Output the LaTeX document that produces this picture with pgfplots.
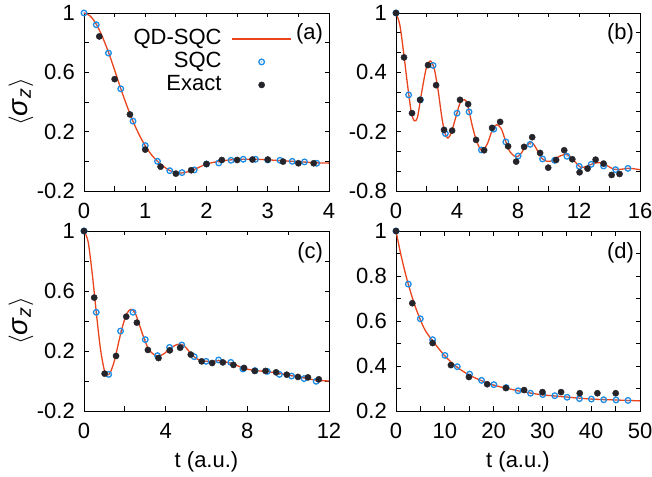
\documentclass[border=0pt]{standalone}
\usepackage{fontspec}
\setmainfont{Liberation Sans}
\usepackage{pgfplots}
\pgfplotsset{compat=1.18}

\definecolor{qdred}{RGB}{234,68,28}
\definecolor{sqcblue}{RGB}{28,140,228}
\definecolor{exactdark}{RGB}{36,36,42}

% open circle with a dot in the middle (gnuplot style)
\pgfdeclareplotmark{odot}{%
  \pgfpathcircle{\pgfpointorigin}{\pgfplotmarksize}\pgfusepathqstroke
  \pgfpathcircle{\pgfpointorigin}{0.6bp}\pgfusepathqfill}

\pgfplotsset{
  panel/.style={
    scale only axis, width=245bp, height=178bp,
    font=\fontsize{22bp}{26bp}\selectfont,
    axis line style={line width=0.8bp},
    every tick/.style={black, line width=0.8bp},
    major tick length=4.5bp,
    tick align=inside,
    tick label style={inner sep=0pt},
    xticklabel shift=12bp, yticklabel shift=9bp,
    clip mode=individual,
    ylabel={\fontsize{28bp}{30bp}\selectfont$\langle$\textit{σ}\textsubscript{\textit{z}}$\rangle$},
    ylabel style={at={(axis description cs:-0.257,0.5)}, anchor=center,
      rotate=0, inner sep=0pt},
  },
  bottompanel/.style={panel, height=180bp,
    xlabel={t (a.u.)},
    xlabel style={at={(axis description cs:0.5,-0.28)}, anchor=center, inner sep=0pt}},
  qd/.style={qdred, line width=1.3bp, smooth, no markers},
  sqc/.style={sqcblue, only marks, mark=odot, mark size=2.8bp, line width=1.3bp},
  ex/.style={exactdark, only marks, mark=*, mark size=3.1bp},
  lineleg/.style={legend image code/.code={\draw[##1] (0bp,0bp) -- (59bp,0bp);}},
  markleg/.style={legend image code/.code={\path (0bp,0bp) (59bp,0bp);
      \draw[##1] plot coordinates {(29.5bp,0bp)};}},
}

\newcommand{\plab}[1]{\node[anchor=east, inner sep=0pt] at (axis description cs:0.976,0.881) {#1};}

\begin{document}
\begin{tikzpicture}
\useasboundingbox (0,0) rectangle (652bp,477bp);

% (a)
\begin{axis}[panel, at={(84bp,286bp)}, anchor=south west,
  xmin=0, xmax=4, ymin=-0.2, ymax=1,
  xtick={0,0.5,1,1.5,2,2.5,3,3.5,4}, xticklabels={0,,1,,2,,3,,4},
  ytick={-0.2,0,0.2,0.4,0.6,0.8,1}, yticklabels={-0.2,,0.2,,0.6,,1},
  legend plot pos=right, legend cell align=right,
  legend style={at={(axis description cs:0.849,0.92)}, anchor=north east,
    draw=none, fill=none, inner sep=0pt, row sep=0pt, column sep=10bp,
    nodes={inner sep=0pt, text height=17bp, text depth=6bp}}]
\addplot[qd, lineleg] coordinates {
 (0,1.0) (0.1,0.98) (0.2,0.925) (0.3,0.84) (0.4,0.735) (0.5,0.615) (0.6,0.49)
 (0.7,0.375) (0.8,0.27) (0.9,0.18) (1.0,0.105) (1.1,0.045) (1.2,0.0) (1.3,-0.035)
 (1.4,-0.062) (1.5,-0.076) (1.6,-0.078) (1.7,-0.07) (1.8,-0.055) (1.9,-0.036)
 (2.0,-0.018) (2.2,0.0) (2.4,0.01) (2.6,0.014) (2.8,0.014) (3.0,0.01) (3.2,0.005)
 (3.4,0.0) (3.6,-0.005) (3.8,-0.01) (4.0,-0.012)};
\addlegendentry{QD-SQC}
\addplot[sqc, markleg] coordinates {
 (0,1) (0.2,0.921) (0.4,0.73) (0.6,0.489) (0.8,0.271) (1.0,0.106) (1.2,0.0)
 (1.4,-0.063) (1.6,-0.076) (1.8,-0.058) (2.0,-0.018) (2.2,-0.011) (2.4,0.007)
 (2.6,0.014) (2.8,0.014) (3.0,0.009) (3.2,0.007) (3.4,0.0) (3.6,-0.004) (3.8,-0.013)};
\addlegendentry{SQC}
\addplot[ex, markleg] coordinates {
 (0.25,0.842) (0.5,0.554) (0.75,0.316) (1.0,0.079) (1.25,-0.036) (1.5,-0.083)
 (1.75,-0.06) (2.0,-0.018) (2.25,0.009) (2.5,0.009) (2.75,0.012) (3.0,0.012)
 (3.25,-0.002) (3.5,-0.013) (3.75,-0.013)};
\addlegendentry{Exact}
\plab{(a)}
\end{axis}

% (b)
\begin{axis}[panel, at={(396bp,286bp)}, anchor=south west, width=244bp, ylabel={},
  xmin=0, xmax=16, ymin=-0.8, ymax=1,
  xtick={0,2,4,6,8,10,12,14,16}, xticklabels={0,,4,,8,,12,,16},
  ytick={-0.8,-0.6,-0.4,-0.2,0,0.2,0.4,0.6,0.8,1},
  yticklabels={-0.8,,,-0.2,,,0.4,,,1}]
\addplot[qd] coordinates {
 (0,1.0) (0.25,0.88) (0.5,0.6) (0.75,0.28) (1.0,0.0) (1.2,-0.09) (1.4,-0.06)
 (1.6,0.12) (1.8,0.30) (2.0,0.45) (2.25,0.515) (2.5,0.44) (2.75,0.23) (3.0,-0.05)
 (3.2,-0.21) (3.4,-0.265) (3.6,-0.22) (3.8,-0.12) (4.0,-0.01) (4.2,0.09) (4.4,0.12)
 (4.6,0.11) (4.8,0.0) (5.0,-0.14) (5.25,-0.28) (5.5,-0.37) (5.7,-0.39) (6.0,-0.32)
 (6.3,-0.19) (6.6,-0.13) (6.9,-0.17) (7.2,-0.3) (7.5,-0.41) (7.9,-0.455) (8.2,-0.42)
 (8.5,-0.35) (8.9,-0.31) (9.2,-0.37) (9.5,-0.46) (9.9,-0.5) (10.3,-0.49) (10.7,-0.45)
 (11.2,-0.43) (11.6,-0.48) (12.1,-0.56) (12.5,-0.55) (13.0,-0.52) (13.4,-0.515)
 (13.8,-0.54) (14.3,-0.58) (14.8,-0.58) (15.3,-0.57) (16,-0.585)};
\addplot[sqc] coordinates {
 (0,1) (0.83,0.172) (1.6,0.122) (2.43,0.47) (3.24,-0.219) (4.0,-0.013) (4.79,0.0)
 (5.6,-0.385) (6.41,-0.175) (7.2,-0.304) (8.01,-0.446) (8.8,-0.328) (9.61,-0.476)
 (10.4,-0.49) (11.21,-0.449) (12.02,-0.551) (12.8,-0.53) (13.61,-0.547)
 (14.4,-0.584) (15.21,-0.571)};
\addplot[ex] coordinates {
 (0,1) (0.525,0.551) (1.05,-0.013) (1.58,0.122) (2.1,0.473) (2.63,0.27)
 (3.15,-0.182) (3.68,-0.189) (4.2,0.122) (4.73,0.078) (5.25,-0.283) (5.78,-0.388)
 (6.3,-0.162) (6.83,-0.101) (7.35,-0.348) (7.88,-0.503) (8.4,-0.354) (8.93,-0.256)
 (9.45,-0.415) (9.98,-0.564) (10.5,-0.486) (11.03,-0.388) (11.56,-0.479)
 (12.04,-0.611) (12.56,-0.574) (13.09,-0.483) (13.61,-0.523) (14.14,-0.638)
 (14.66,-0.628)};
\plab{(b)}
\end{axis}

% (c)
\begin{axis}[bottompanel, at={(84bp,66bp)}, anchor=south west,
  xmin=0, xmax=12, ymin=-0.2, ymax=1,
  xtick={0,2,4,6,8,10,12}, xticklabels={0,,4,,8,,12},
  ytick={-0.2,0,0.2,0.4,0.6,0.8,1}, yticklabels={-0.2,,0.2,,0.6,,1}]
\addplot[qd] coordinates {
 (0,1.0) (0.2,0.93) (0.4,0.72) (0.6,0.46) (0.8,0.22) (1.0,0.07) (1.15,0.04)
 (1.3,0.06) (1.5,0.14) (1.7,0.26) (1.9,0.37) (2.1,0.45) (2.3,0.478) (2.5,0.455)
 (2.7,0.38) (2.9,0.3) (3.1,0.23) (3.3,0.19) (3.6,0.165) (3.9,0.18) (4.2,0.215)
 (4.5,0.24) (4.7,0.245) (4.9,0.235) (5.2,0.19) (5.5,0.15) (5.8,0.135) (6.2,0.13)
 (6.6,0.135) (7.0,0.125) (7.4,0.11) (7.8,0.085) (8.4,0.07) (9.0,0.062) (9.6,0.05)
 (10.2,0.035) (10.8,0.02) (11.4,0.005) (12,0.0)};
\addplot[sqc] coordinates {
 (0,1) (0.6,0.458) (1.21,0.044) (1.79,0.333) (2.4,0.458) (3.0,0.276) (3.6,0.169)
 (4.19,0.224) (4.79,0.24) (5.4,0.162) (5.98,0.131) (6.59,0.14) (7.19,0.124)
 (7.78,0.08) (8.38,0.069) (8.98,0.064) (9.57,0.044) (10.17,0.033) (10.78,0.016)
 (11.37,-0.002)};
\addplot[ex] coordinates {
 (0,1) (0.5,0.556) (1.01,0.049) (1.57,0.167) (2.07,0.429) (2.59,0.389) (3.13,0.207)
 (3.65,0.153) (4.2,0.204) (4.71,0.222) (5.23,0.176) (5.76,0.131) (6.28,0.12)
 (6.8,0.124) (7.32,0.107) (7.84,0.087) (8.36,0.067) (8.89,0.067) (9.41,0.058)
 (9.93,0.042) (10.48,0.027) (10.97,0.024) (11.5,0.011)};
\plab{(c)}
\end{axis}

% (d)
\begin{axis}[bottompanel, at={(396bp,66bp)}, anchor=south west, width=244bp, ylabel={},
  xmin=0, xmax=50, ymin=0.2, ymax=1,
  xtick={0,5,10,15,20,25,30,35,40,45,50}, xticklabels={0,,10,,20,,30,,40,,50},
  ytick={0.2,0.3,0.4,0.5,0.6,0.7,0.8,0.9,1}, yticklabels={0.2,,0.4,,0.6,,0.8,,1}]
\addplot[qd] coordinates {
 (0,1.0) (1,0.895) (2,0.805) (3,0.728) (4,0.661) (5,0.605) (6,0.558) (7.5,0.512)
 (10,0.445) (12.5,0.395) (15,0.36) (17.5,0.335) (20,0.315) (22.5,0.302) (25,0.29)
 (27.5,0.28) (30,0.272) (35,0.262) (40,0.253) (45,0.249) (50,0.245)};
\addplot[sqc] coordinates {
 (0,1) (2.52,0.764) (4.98,0.61) (7.5,0.517) (10.03,0.447) (12.55,0.397) (15.08,0.364)
 (17.53,0.336) (20.05,0.317) (22.58,0.304) (25.03,0.29) (27.56,0.279) (30.08,0.273)
 (32.54,0.268) (35.06,0.261) (37.59,0.255) (40.04,0.253) (42.56,0.25) (45.09,0.249)
 (47.54,0.247)};
\addplot[ex] coordinates {
 (0,1) (3.34,0.679) (7.5,0.502) (11.25,0.404) (14.94,0.351) (18.69,0.319)
 (22.51,0.302) (26.26,0.293) (30.01,0.284) (33.83,0.284) (37.65,0.279)
 (41.27,0.279) (45.02,0.279)};
\plab{(d)}
\end{axis}
\end{tikzpicture}
\end{document}
